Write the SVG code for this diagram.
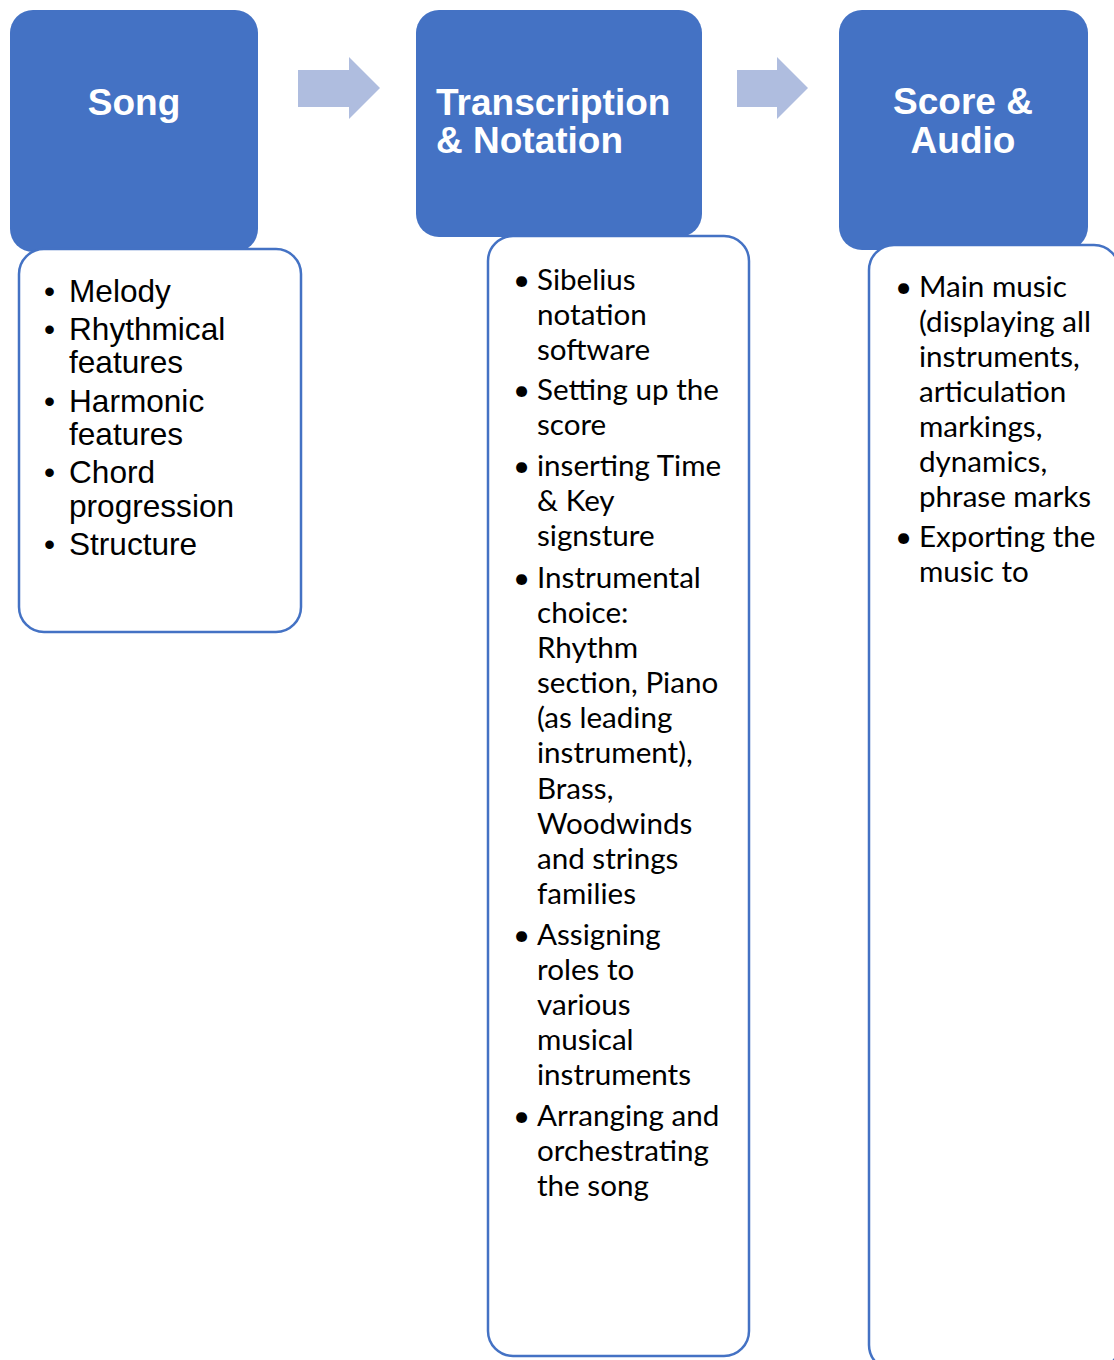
<svg xmlns="http://www.w3.org/2000/svg" width="1114" height="1360" viewBox="0 0 1114 1360">
<style>
.hdr{fill:#4472C4;}
.box{fill:#FFFFFF;stroke:#4472C4;stroke-width:2.5;}
.arrow{fill:#AFBDDF;}
.title{font-family:"Liberation Sans",Arial,sans-serif;font-weight:bold;font-size:37px;fill:#FFFFFF;}
.la{font-family:"Liberation Sans",Arial,sans-serif;font-size:31.6px;fill:#000000;}
.lb{font-family:Lato,"Open Sans",sans-serif;font-size:29.6px;fill:#000000;}
</style>
<rect width="1114" height="1360" fill="#FFFFFF"/>
<g id="connectors">
<polygon class="arrow" points="298,70 349,70 349,57 380,88 349,119 349,107 298,107"/>
<polygon class="arrow" points="737,70 777,70 777,57 808,88 777,119 777,107 737,107"/>
</g>
<g id="song">
<rect class="hdr" x="10" y="10" width="248" height="242" rx="23"/>
<text class="title" x="134" y="115" text-anchor="middle">Song</text>
</g>
<g id="song-details">
<rect class="box" x="19" y="249" width="282" height="383" rx="25"/>
<g class="la">
<text x="44" y="302">•</text><text x="69" y="302">Melody</text>
<text x="44" y="340">•</text><text x="69" y="340">Rhythmical</text>
<text x="69" y="373">features</text>
<text x="44" y="412">•</text><text x="69" y="412">Harmonic</text>
<text x="69" y="445">features</text>
<text x="44" y="483">•</text><text x="69" y="483">Chord</text>
<text x="69" y="517">progression</text>
<text x="44" y="555">•</text><text x="69" y="555">Structure</text>
</g>
</g>
<g id="transcription">
<rect class="hdr" x="416" y="10" width="286" height="227" rx="23"/>
<text class="title" x="436" y="115">Transcription</text>
<text class="title" x="436" y="153">&amp; Notation</text>
</g>
<g id="transcription-details">
<rect class="box" x="488" y="236" width="261" height="1120" rx="25"/>
<g class="lb">
<text x="513" y="290">•</text><text x="537" y="290">Sibelius</text>
<text x="537" y="325">notation</text>
<text x="537" y="360">software</text>
<text x="513" y="400">•</text><text x="537" y="400">Setting up the</text>
<text x="537" y="435">score</text>
<text x="513" y="476">•</text><text x="537" y="476">inserting Time</text>
<text x="537" y="511">&amp; Key</text>
<text x="537" y="546">signsture</text>
<text x="513" y="588">•</text><text x="537" y="588">Instrumental</text>
<text x="537" y="623">choice:</text>
<text x="537" y="658">Rhythm</text>
<text x="537" y="693">section, Piano</text>
<text x="537" y="728">(as leading</text>
<text x="537" y="763">instrument),</text>
<text x="537" y="799">Brass,</text>
<text x="537" y="834">Woodwinds</text>
<text x="537" y="869">and strings</text>
<text x="537" y="904">families</text>
<text x="513" y="945">•</text><text x="537" y="945">Assigning</text>
<text x="537" y="980">roles to</text>
<text x="537" y="1015">various</text>
<text x="537" y="1050">musical</text>
<text x="537" y="1085">instruments</text>
<text x="513" y="1126">•</text><text x="537" y="1126">Arranging and</text>
<text x="537" y="1161">orchestrating</text>
<text x="537" y="1196">the song</text>
</g>
</g>
<g id="score-audio">
<rect class="hdr" x="839" y="10" width="249" height="240" rx="23"/>
<text class="title" x="963" y="114" text-anchor="middle">Score &amp;</text>
<text class="title" x="963" y="153" text-anchor="middle">Audio</text>
</g>
<g id="score-audio-details">
<rect class="box" x="869" y="245" width="250" height="1125" rx="25"/>
<g class="lb">
<text x="895" y="297">•</text><text x="919" y="297">Main music</text>
<text x="919" y="332">(displaying all</text>
<text x="919" y="367">instruments,</text>
<text x="919" y="402">articulation</text>
<text x="919" y="437">markings,</text>
<text x="919" y="472">dynamics,</text>
<text x="919" y="507">phrase marks</text>
<text x="895" y="547">•</text><text x="919" y="547">Exporting the</text>
<text x="919" y="582">music to</text>
</g>
</g>
</svg>
